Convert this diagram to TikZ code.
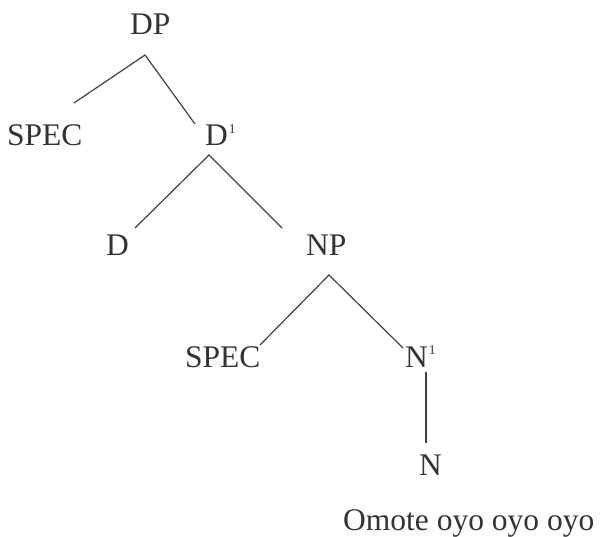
\documentclass[tikz,border=0pt]{standalone}
\usepackage{fontspec}
\setmainfont{Liberation Serif}
\usetikzlibrary{calc}
\newcommand{\barone}{\kern1pt\raisebox{12.5pt}{\fontsize{13.5}{15}\selectfont 1}}
\begin{document}
\begin{tikzpicture}[x=1pt,y=-1pt,
  lbl/.style={inner sep=0pt,anchor=base west,text=black!80,font=\fontsize{31.5}{36}\selectfont},
  edge/.style={draw=black!75,line width=1.2pt}]
\useasboundingbox (0,0) rectangle (605,537);
\node[lbl] (DP) at (130,35) {DP};
\node[lbl] (SPECa) at (7,146) {SPEC};
\node[lbl] (Dbar) at (205,146) {D\barone};
\node[lbl] (D) at (106,256) {D};
\node[lbl] (NP) at (306,256) {NP};
\node[lbl] (SPECb) at (185,367) {SPEC};
\node[lbl] (Nbar) at (405,367) {N\barone};
\node[lbl] (N) at (419,475) {N};
\node[lbl] (W) at (343,530) {Omote oyo oyo oyo};
\draw[edge] ($(SPECa.base west)+(67,-43)$) -- ($(DP.base west)+(15,20)$) -- ($(Dbar.base west)+(-10,-22)$);
\draw[edge] ($(D.base west)+(29,-28)$) -- ($(Dbar.base west)+(4,9)$) -- ($(NP.base west)+(-24,-28)$);
\draw[edge] ($(SPECb.base west)+(75,-22)$) -- ($(NP.base west)+(23,19)$) -- ($(Nbar.base west)+(-2,-19)$);
\draw[edge] ($(Nbar.base west)+(21,5)$) -- ($(N.base west)+(7,-32)$);
\end{tikzpicture}
\end{document}
